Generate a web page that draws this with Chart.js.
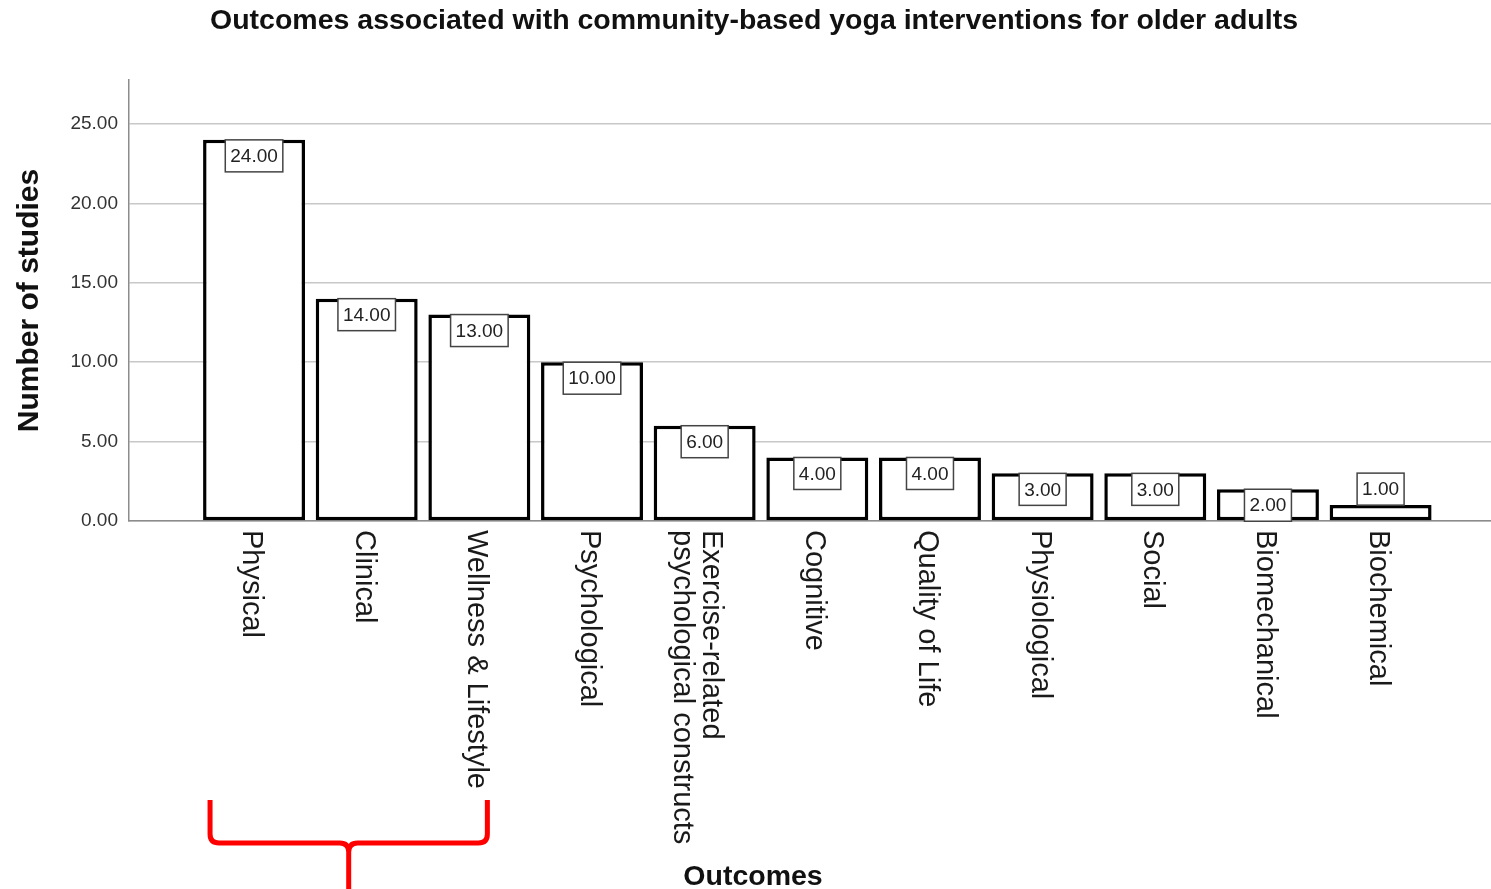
<!DOCTYPE html>
<html>
<head>
<meta charset="utf-8">
<script src="https://cdn.jsdelivr.net/npm/chart.js@4.4.0/dist/chart.umd.min.js"></script>
<style>
  html, body { margin: 0; padding: 0; background: #fff; }
  #wrap { width: 1491px; height: 889px; }
</style>
</head>
<body>
<div id="wrap"><canvas id="myChart" width="1491" height="889"></canvas></div>
<script>
const outcomes = ['Physical', 'Clinical', 'Wellness & Lifestyle', 'Psychological',
    ['Exercise-related', 'psychological constructs'], 'Cognitive', 'Quality of Life',
    'Physiological', 'Social', 'Biomechanical', 'Biochemical'];
const studies = [24, 14, 13, 10, 6, 4, 4, 3, 3, 2, 1];
const yTicks = [0, 5, 10, 15, 20, 25];
const bracketFrom = 0, bracketTo = 2;   // red brace under these categories

const FONT = "'Liberation Sans', Arial, sans-serif";
const chartTitle = 'Outcomes associated with community-based yoga interventions for older adults';
const xTitle = 'Outcomes';

// titles, rotated category names, boxed value labels and the red brace
const extras = {
    id: 'extras',
    afterDatasetsDraw(chart) {
        const { ctx, scales: { x, y } } = chart;
        ctx.save();
        ctx.font = `19px ${FONT}`;
        ctx.textAlign = 'center';
        ctx.textBaseline = 'middle';
        const boxH = 32;
        studies.forEach((v, i) => {
            const cx = x.getPixelForValue(i);
            const top = y.getPixelForValue(v);
            const txt = v.toFixed(2);
            const w = ctx.measureText(txt).width + 10;
            const by = (y.getPixelForValue(0) - top >= 30) ? top : top - boxH;
            ctx.fillStyle = '#fff';
            ctx.fillRect(cx - w / 2, by, w, boxH);
            ctx.strokeStyle = '#444';
            ctx.lineWidth = 1.5;
            ctx.strokeRect(cx - w / 2, by, w, boxH);
            ctx.fillStyle = '#222';
            ctx.fillText(txt, cx, by + boxH / 2 + 1);
        });
        ctx.restore();
    },
    afterDraw(chart) {
        const { ctx, scales: { x, y } } = chart;
        ctx.save();
        ctx.fillStyle = '#111';
        ctx.textAlign = 'center';
        ctx.textBaseline = 'middle';
        ctx.font = `bold 28.5px ${FONT}`;
        ctx.fillText(chartTitle, 754, 21);
        ctx.fillText(xTitle, 753, 877);

        ctx.font = `29px ${FONT}`;
        ctx.fillStyle = '#1a1a1a';
        ctx.textAlign = 'left';
        outcomes.forEach((lab, i) => {
            const lines = Array.isArray(lab) ? lab : [lab];
            const cx = x.getPixelForValue(i) - 3 - (lines.length > 1 ? 5 : 0);
            lines.forEach((ln, j) => {
                const off = (lines.length - 1) / 2 * 29 - j * 29;
                ctx.save();
                ctx.translate(cx + off, y.bottom + 9);
                ctx.rotate(Math.PI / 2);
                ctx.fillText(ln, 0, 0);
                ctx.restore();
            });
        });

        // brace
        const L = x.getPixelForValue(bracketFrom) - 44;
        const R = x.getPixelForValue(bracketTo) + 8;
        const C = (L + R) / 2;
        const top = 800, mid = 843, r = 9;
        ctx.strokeStyle = '#ff0000';
        ctx.lineWidth = 5;
        ctx.lineJoin = 'round';
        ctx.beginPath();
        ctx.moveTo(L, top);
        ctx.lineTo(L, mid - r);
        ctx.quadraticCurveTo(L, mid, L + r, mid);
        ctx.lineTo(C - r, mid);
        ctx.quadraticCurveTo(C, mid, C, mid + r);
        ctx.lineTo(C, chart.height);
        ctx.moveTo(C, mid + r);
        ctx.quadraticCurveTo(C, mid, C + r, mid);
        ctx.lineTo(R - r, mid);
        ctx.quadraticCurveTo(R, mid, R, mid - r);
        ctx.lineTo(R, top);
        ctx.stroke();
        ctx.restore();
    }
};

new Chart(document.getElementById('myChart'), {
    type: 'bar',
    data: {
        datasets: [{
            data: studies.map((v, i) => ({ x: i, y: v })),
            backgroundColor: '#ffffff',
            borderColor: '#000000',
            borderWidth: 3.5,
            borderSkipped: false,
            barPercentage: 0.905,
            categoryPercentage: 1
        }]
    },
    options: {
        responsive: false,
        animation: false,
        layout: { padding: { top: 80 } },
        plugins: {
            legend: { display: false },
            tooltip: { enabled: false },
            title: { display: false }
        },
        scales: {
            x: {
                type: 'linear',
                offset: false,
                min: -1.11,
                max: 10.98,
                afterBuildTicks: s => { s.ticks = outcomes.map((_, i) => ({ value: i })); },
                afterFit: s => { s.height = 368; },
                ticks: { display: false },
                grid: { display: false },
                border: { display: true, color: '#8c8c8c', width: 1.5 }
            },
            y: {
                min: 0,
                max: 27.77,
                afterBuildTicks: s => { s.ticks = yTicks.map(v => ({ value: v })); },
                afterFit: s => { s.width = 129; },
                ticks: {
                    color: '#333',
                    padding: 11,
                    font: { family: FONT, size: 19 },
                    callback: v => Number(v).toFixed(2)
                },
                grid: { color: '#c8c8c8', lineWidth: 1.5, drawTicks: false },
                border: { display: true, color: '#8c8c8c', width: 1.5 },
                title: {
                    display: true,
                    text: 'Number of studies',
                    color: '#111',
                    font: { family: FONT, size: 30, weight: 'bold', lineHeight: 1.2 },
                    padding: { top: 12, bottom: 0 }
                }
            }
        }
    },
    plugins: [extras]
});
</script>
</body>
</html>
